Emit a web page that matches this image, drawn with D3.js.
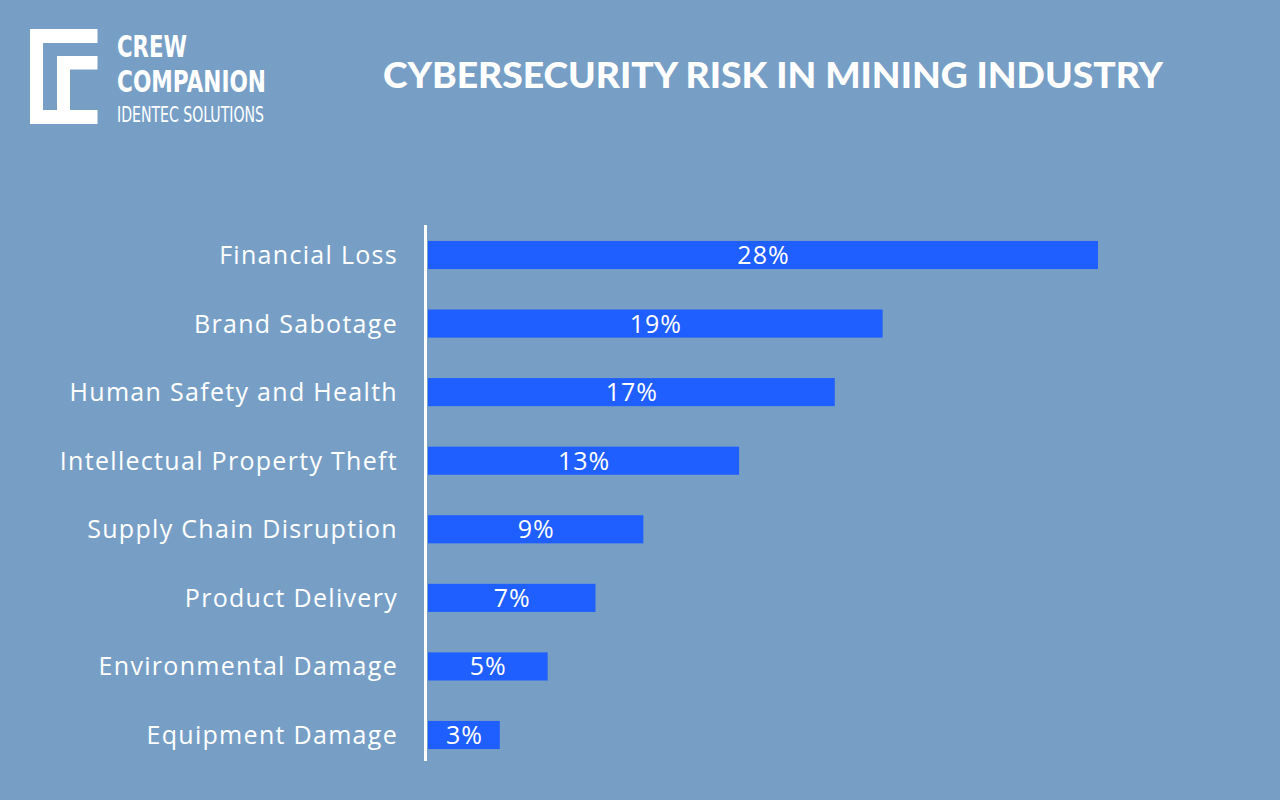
<!DOCTYPE html>
<html>
<head>
<meta charset="utf-8">
<script src="https://cdn.jsdelivr.net/npm/d3@7"></script>
<style>
  html, body { margin: 0; padding: 0; background: #779fc6; }
  svg { display: block; }
</style>
</head>
<body>
<svg id="chart" width="1280" height="800"></svg>
<script>
const title = "CYBERSECURITY RISK IN MINING INDUSTRY";
const categories = [
  "Financial Loss",
  "Brand Sabotage",
  "Human Safety and Health",
  "Intellectual Property Theft",
  "Supply Chain Disruption",
  "Product Delivery",
  "Environmental Damage",
  "Equipment Damage"
];
const values = [28, 19, 17, 13, 9, 7, 5, 3];
const valueLabels = ["28%", "19%", "17%", "13%", "9%", "7%", "5%", "3%"];
const logoLines = ["CREW", "COMPANION", "IDENTEC SOLUTIONS"];

const svg = d3.select("#chart");
const W = 1280, H = 800;
const bg = "#779fc6", barColor = "#1f5eff";
const bodyFont = "'Open Sans', Lato, sans-serif";

svg.append("rect").attr("width", W).attr("height", H).attr("fill", bg);

// Logo
const logo = svg.append("g").attr("class", "logo");
const logoPath = d3.path();
logoPath.moveTo(30, 29); logoPath.lineTo(97.5, 29); logoPath.lineTo(97.5, 43);
logoPath.lineTo(43, 43); logoPath.lineTo(43, 110); logoPath.lineTo(57, 110);
logoPath.lineTo(57, 56); logoPath.lineTo(97.5, 56); logoPath.lineTo(97.5, 69.5);
logoPath.lineTo(70, 69.5); logoPath.lineTo(70, 110); logoPath.lineTo(97.5, 110);
logoPath.lineTo(97.5, 124); logoPath.lineTo(30, 124); logoPath.closePath();
logo.append("path").attr("d", logoPath.toString()).attr("fill", "#ffffff");

const logoFont = "'Liberation Sans Narrow', 'DejaVu Sans Condensed', Roboto, sans-serif";
logo.append("text").text(logoLines[0])
  .attr("x", 117).attr("y", 57).attr("fill", "#fff")
  .attr("font-family", logoFont).attr("font-weight", 700).attr("font-size", 31)
  .attr("textLength", 70).attr("lengthAdjust", "spacingAndGlyphs");
logo.append("text").text(logoLines[1])
  .attr("x", 117).attr("y", 92).attr("fill", "#fff")
  .attr("font-family", logoFont).attr("font-weight", 700).attr("font-size", 31)
  .attr("textLength", 149).attr("lengthAdjust", "spacingAndGlyphs");
logo.append("text").text(logoLines[2])
  .attr("x", 117).attr("y", 122).attr("fill", "#fff")
  .attr("font-family", logoFont).attr("font-weight", 400).attr("font-size", 22)
  .attr("textLength", 147).attr("lengthAdjust", "spacingAndGlyphs");

// Title
svg.append("text").text(title)
  .attr("x", 773).attr("y", 88).attr("text-anchor", "middle")
  .attr("fill", "#fff")
  .attr("font-family", "Lato, 'Open Sans', sans-serif")
  .attr("font-weight", 900).attr("font-size", 36)
  .attr("textLength", 780).attr("lengthAdjust", "spacingAndGlyphs");

// Scales
const x = d3.scaleLinear().domain([0, 28]).range([428, 1098]);
const step = 480 / 7;
const y = d3.scaleBand().domain(categories)
  .range([255 - step / 2, 735 + step / 2])
  .paddingInner(0.59).paddingOuter(0.295);

// Bars
svg.append("g").selectAll("rect").data(values).join("rect")
  .attr("x", x(0))
  .attr("y", (d, i) => y(categories[i]))
  .attr("width", d => x(d) - x(0))
  .attr("height", y.bandwidth())
  .attr("fill", barColor);

// Value labels
svg.append("g").selectAll("text").data(values).join("text")
  .attr("x", d => (x(0) + x(d)) / 2 + 0.5)
  .attr("y", (d, i) => y(categories[i]) + y.bandwidth() / 2)
  .attr("dy", "0.36em")
  .attr("text-anchor", "middle")
  .attr("fill", "#fff")
  .attr("font-family", bodyFont)
  .attr("font-size", 25)
  .attr("letter-spacing", "1px")
  .text((d, i) => valueLabels[i]);

// Category axis
const axis = d3.axisLeft(y).tickSize(0).tickPadding(27);
const gAxis = svg.append("g").attr("transform", `translate(${425},0)`).call(axis);
gAxis.select(".domain").remove();
gAxis.selectAll("text")
  .attr("fill", "#fff")
  .attr("font-family", bodyFont)
  .attr("font-size", 25)
  .attr("letter-spacing", "1.3px")
  .attr("dy", "0.36em");

svg.append("line")
  .attr("x1", 425.5).attr("x2", 425.5)
  .attr("y1", 225).attr("y2", 761)
  .attr("stroke", "#fff").attr("stroke-width", 3);
</script>
</body>
</html>
